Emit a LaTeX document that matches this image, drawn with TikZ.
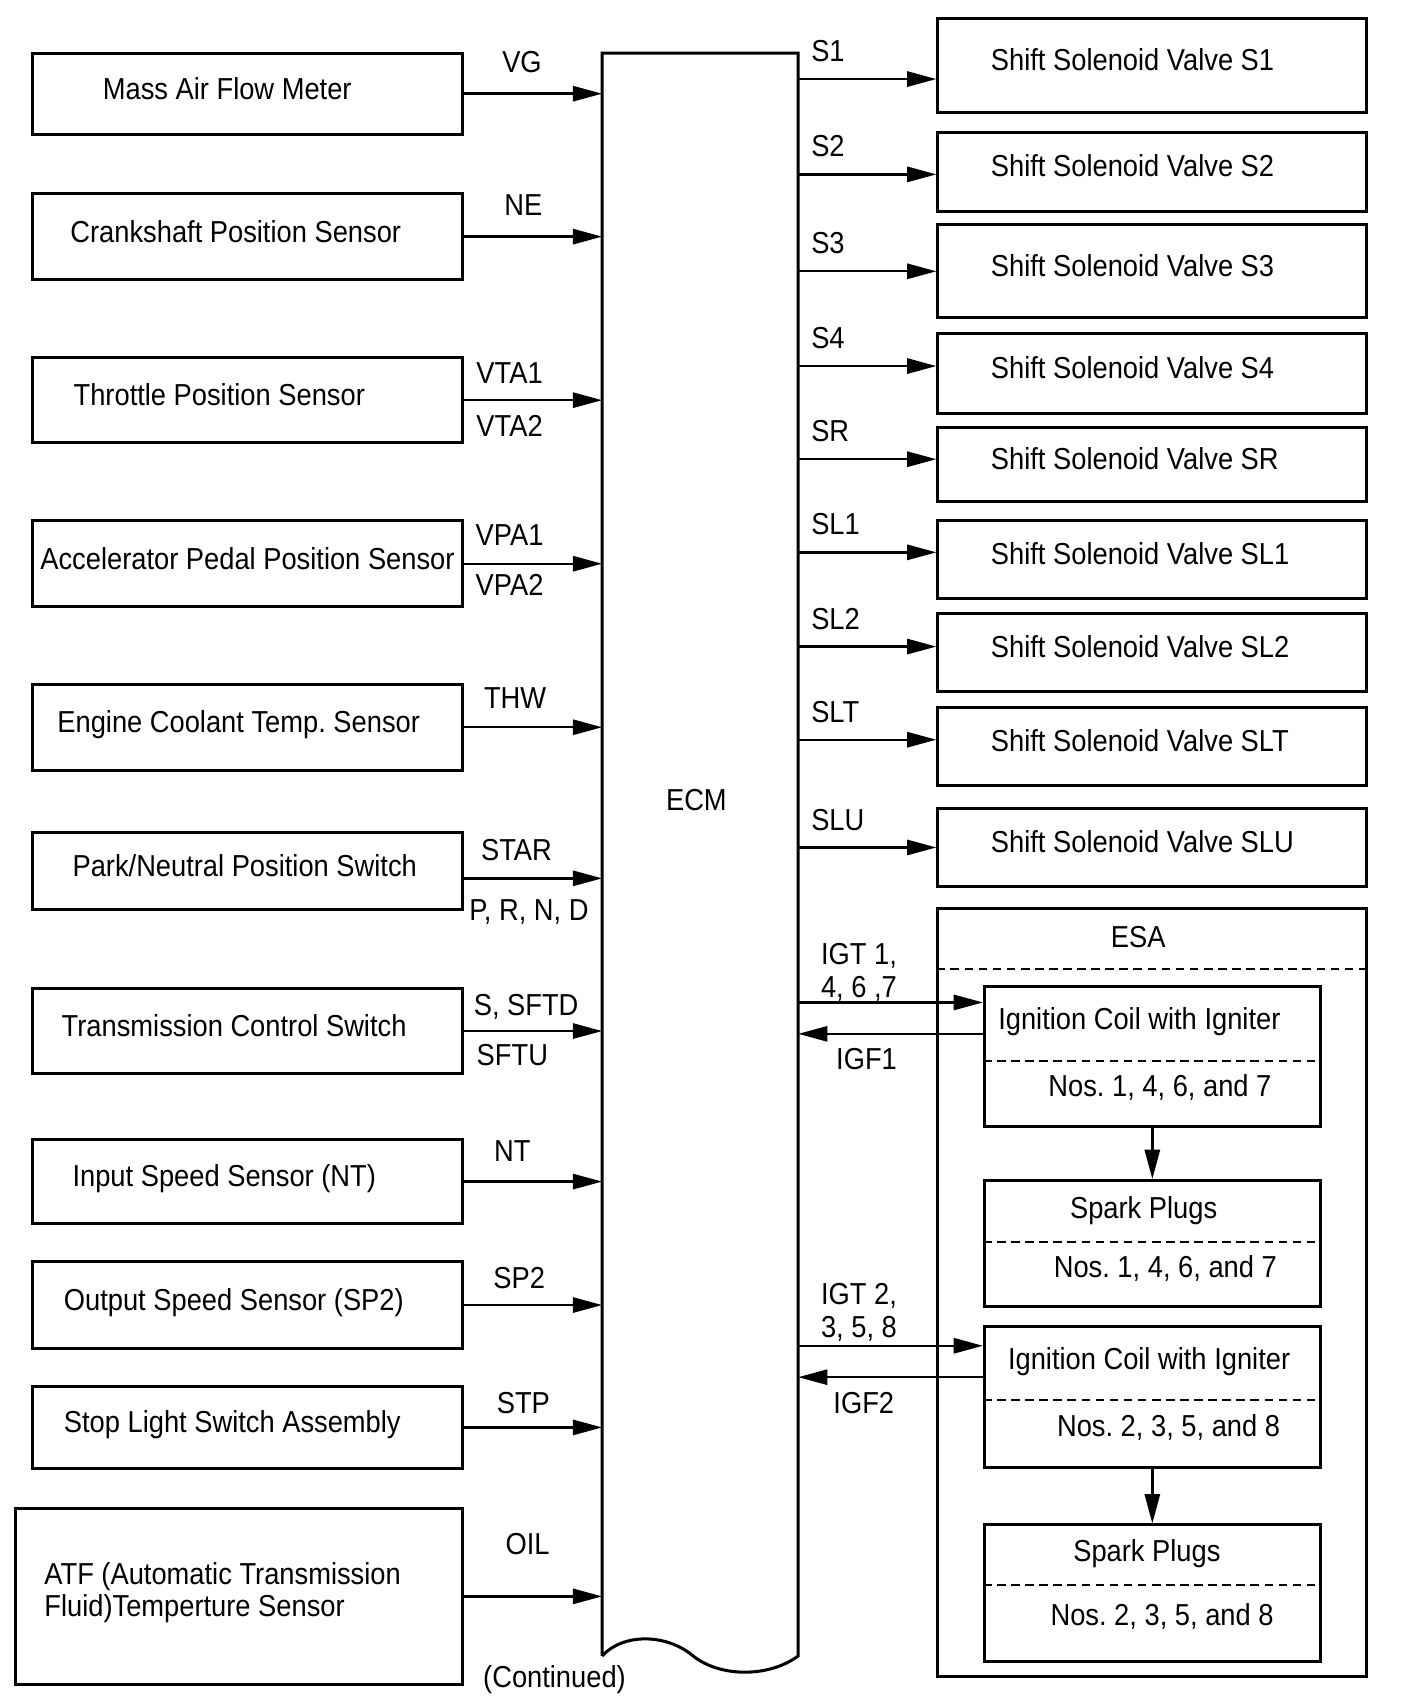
\documentclass[tikz,border=0pt]{standalone}
\usepackage{fontspec}
\setmainfont{Liberation Sans}[FakeStretch=0.9]
\frenchspacing
\usepackage{tikz}
\usetikzlibrary{positioning, arrows.meta}
\tikzstyle{line} = [draw, line width=2.2pt, -{Triangle[length=27pt, width=14pt]}]
\tikzstyle{sensor} = [rectangle, draw, line width=2.8pt, minimum width=397pt, minimum height=79pt, inner xsep=2pt, text centered, text height=20pt, text depth=10pt, font=\fontsize{28}{30}\selectfont]
\tikzstyle{valve} = [rectangle, draw, line width=2.8pt, minimum width=396pt, minimum height=72pt, inner xsep=2pt, text width=298pt, align=flush left, text height=20pt, text depth=11pt, font=\fontsize{28}{30}\selectfont]
\tikzstyle{ign} = [rectangle, draw, line width=2.8pt, minimum width=310pt]
\tikzstyle{sig} = [inner sep=2pt, text height=20pt, text depth=5pt, font=\fontsize{28}{30}\selectfont]
\tikzstyle{sig2} = [inner sep=2pt, align=flush left, font=\fontsize{28}{30}\selectfont]
\tikzstyle{divide} = [draw, line width=2pt, dash pattern=on 8pt off 5pt]

\begin{document}
\begin{tikzpicture}[x=1pt, y=-1pt]
\useasboundingbox (0,0) rectangle (1300,1566);

\coordinate (ecm_sw) at (556,1529);
\coordinate (ecm_nw) at (556,49);
\coordinate (ecm_ne) at (737,49);
\coordinate (ecm_se) at (737,1529);
\draw [line width=2.8pt] (ecm_sw) -- (ecm_nw) -- (ecm_ne) -- (ecm_se) .. controls (710,1549) and (665,1549) .. (640,1529) .. controls (615,1508) and (575,1508) .. (ecm_sw);
\node [sig] (ecm) at (643,741) {ECM};
\node [sig] (cont) at (512,1551) {(Continued)};


\node [sensor, minimum height=75pt, text width=267pt, align=flush left] (maf) at (228.5,86.5) {Mass Air Flow Meter};
\node [sensor, below of=maf, node distance=132pt, text width=327pt, align=flush left] (ckp) {Crankshaft Position Sensor};
\node [sensor, below of=ckp, node distance=151pt, text width=321pt, align=flush left] (tps) {Throttle Position Sensor};
\node [sensor, below of=tps, node distance=151pt] (apps) {Accelerator Pedal Position Sensor};
\node [sensor, below of=apps, node distance=151pt, text width=351pt, align=flush left] (ect) {Engine Coolant Temp. Sensor};
\node [sensor, below of=ect, node distance=133pt, minimum height=71pt, text width=323pt, align=flush left] (pnp) {Park/Neutral Position Switch};
\node [sensor, below of=pnp, node distance=147.5pt, text width=343pt, align=flush left] (tcs) {Transmission Control Switch};
\node [sensor, below of=tcs, node distance=139pt, minimum height=78pt, text width=323pt, align=flush left] (nt) {Input Speed Sensor (NT)};
\node [sensor, below of=nt, node distance=114pt, minimum height=80pt, text width=339pt, align=flush left] (sp2) {Output Speed Sensor (SP2)};
\node [sensor, below of=sp2, node distance=113pt, minimum height=76pt, text width=339pt, align=flush left] (stp) {Stop Light Switch Assembly};
\node [sensor, below of=stp, node distance=156pt, xshift=-8pt, minimum width=413pt, minimum height=162pt, text width=359pt, align=flush left, text depth=42pt] (atf) {ATF (Automatic Transmission\\Fluid)Temperture Sensor};

\coordinate (pnp_out) at ([yshift=-6.5pt]pnp.east);

\path [line] (maf.east) to node [sig, above=11.5pt, pos=.42] {VG} (maf.east -| ecm_nw);
\path [line] (ckp.east) to node [sig, above=11.5pt, pos=.43] {NE} (ckp.east -| ecm_nw);
\path [line] (tps.east) to node [sig, above=7.5pt, pos=.33] {VTA1} node [sig, below=10.5pt, pos=.33] {VTA2} (tps.east -| ecm_nw);
\path [line] (apps.east) to node [sig, above=8.5pt, pos=.33] {VPA1} node [sig, below=6.5pt, pos=.33] {VPA2} (apps.east -| ecm_nw);
\path [line] (ect.east) to node [sig, above=9.5pt, pos=.37] {THW} (ect.east -| ecm_nw);
\path [line] (pnp_out) to node [sig, above=8pt, pos=.38] {STAR} node [sig, below=16pt, pos=.47] {P, R, N, D} (pnp_out -| ecm_nw);
\path [line] (tcs.east) to node [sig, above=6pt, pos=.45] {S, SFTD} node [sig, below=9pt, pos=.35] {SFTU} (tcs.east -| ecm_nw);
\path [line] (nt.east) to node [sig, above=10pt, pos=.35] {NT} (nt.east -| ecm_nw);
\path [line] (sp2.east) to node [sig, above=7pt, pos=.40] {SP2} (sp2.east -| ecm_nw);
\path [line] (stp.east) to node [sig, above=5pt, pos=.43] {STP} (stp.east -| ecm_nw);
\path [line] (atf.east) to node [sig, above=31pt, pos=.46] {OIL} (atf.east -| ecm_nw);


\node [valve, minimum height=87pt] (s1) at (1064,60.5) {Shift Solenoid Valve S1};
\node [valve, below of=s1, node distance=98pt, minimum height=73pt] (s2) {Shift Solenoid Valve S2};
\node [valve, below of=s2, node distance=92pt, minimum height=86pt] (s3) {Shift Solenoid Valve S3};
\node [valve, below of=s3, node distance=94.5pt, minimum height=74pt] (s4) {Shift Solenoid Valve S4};
\node [valve, below of=s4, node distance=84pt, minimum height=68pt] (sr) {Shift Solenoid Valve SR};
\node [valve, below of=sr, node distance=88pt] (sl1) {Shift Solenoid Valve SL1};
\node [valve, below of=sl1, node distance=85.5pt] (sl2) {Shift Solenoid Valve SL2};
\node [valve, below of=sl2, node distance=86.5pt] (slt) {Shift Solenoid Valve SLT};
\node [valve, below of=slt, node distance=93.5pt] (slu) {Shift Solenoid Valve SLU};

\coordinate (s1_in) at ([yshift=-12.5pt]s1.west);
\coordinate (s2_in) at ([yshift=-2.5pt]s2.west);
\coordinate (s4_in) at ([yshift=7pt]s4.west);
\coordinate (sr_in) at ([yshift=5pt]sr.west);
\coordinate (sl1_in) at ([yshift=7pt]sl1.west);
\coordinate (sl2_in) at ([yshift=5.5pt]sl2.west);
\coordinate (slt_in) at ([yshift=6pt]slt.west);

\path [line] (ecm_ne |- s1_in) to node [sig, above right=8pt and 9pt, pos=0] {S1} (s1_in);
\path [line] (ecm_ne |- s2_in) to node [sig, above right=8pt and 9pt, pos=0] {S2} (s2_in);
\path [line] (ecm_ne |- s3.west) to node [sig, above right=8pt and 9pt, pos=0] {S3} (s3.west);
\path [line] (ecm_ne |- s4_in) to node [sig, above right=8pt and 9pt, pos=0] {S4} (s4_in);
\path [line] (ecm_ne |- sr_in) to node [sig, above right=8pt and 9pt, pos=0] {SR} (sr_in);
\path [line] (ecm_ne |- sl1_in) to node [sig, above right=8pt and 9pt, pos=0] {SL1} (sl1_in);
\path [line] (ecm_ne |- sl2_in) to node [sig, above right=8pt and 9pt, pos=0] {SL2} (sl2_in);
\path [line] (ecm_ne |- slt_in) to node [sig, above right=8pt and 9pt, pos=0] {SLT} (slt_in);
\path [line] (ecm_ne |- slu.west) to node [sig, above right=8pt and 9pt, pos=0] {SLU} (slu.west);


\node [ign, minimum width=396pt, minimum height=709pt, label={[sig, below=15pt, xshift=-13pt]north:ESA}] (esa) at (1064,1193.5) {};
\path [divide] ([yshift=-57pt]esa.north west) to ([yshift=-57pt]esa.north east);

\node [ign, minimum height=129pt] (coil1) at (1064,975.5) {};
\node [ign, below of=coil1, node distance=172.5pt, minimum height=116pt] (spark1) {};
\node [ign, below of=spark1, node distance=142pt, minimum height=130pt] (coil2) {};
\node [ign, below of=coil2, node distance=181pt, minimum height=126pt] (spark2) {};

\node [sig, below=19pt of coil1.north, xshift=-12pt] (coil1_txt) {Ignition Coil with Igniter};
\node [sig, below=81pt of coil1.north, xshift=7pt] (coil1_nos) {Nos. 1, 4, 6, and 7};
\path [divide] ([yshift=-70pt]coil1.north west) to ([yshift=-70pt]coil1.north east);

\node [sig, below=14pt of spark1.north, xshift=-8pt] (spark1_txt) {Spark Plugs};
\node [sig, below=69pt of spark1.north, xshift=12pt] (spark1_nos) {Nos. 1, 4, 6, and 7};
\path [divide] ([yshift=-58pt]spark1.north west) to ([yshift=-58pt]spark1.north east);

\node [sig, below=19pt of coil2.north, xshift=-3pt] (coil2_txt) {Ignition Coil with Igniter};
\node [sig, below=81pt of coil2.north, xshift=15pt] (coil2_nos) {Nos. 2, 3, 5, and 8};
\path [divide] ([yshift=-69pt]coil2.north west) to ([yshift=-69pt]coil2.north east);

\node [sig, below=13pt of spark2.north, xshift=-5pt] (spark2_txt) {Spark Plugs};
\node [sig, below=72pt of spark2.north, xshift=9pt] (spark2_nos) {Nos. 2, 3, 5, and 8};
\path [divide] ([yshift=-57pt]spark2.north west) to ([yshift=-57pt]spark2.north east);

\path [line] (coil1.south) to (spark1.north);
\path [line] (coil2.south) to (spark2.north);

\coordinate (igt1_in) at ([yshift=-16pt]coil1.north west);
\coordinate (igf1_out) at ([yshift=-45pt]coil1.north west);
\coordinate (igt2_in) at ([yshift=-19pt]coil2.north west);
\coordinate (igf2_out) at ([yshift=-48pt]coil2.north west);

\path [line] (ecm_ne |- igt1_in) to node [sig2, above right=-2pt and 18pt, pos=0] {IGT 1,\\4, 6 ,7} (igt1_in);
\path [line] (igf1_out) to node [sig, below=10pt, pos=.63] {IGF1} (igf1_out -| ecm_ne);
\path [line] (ecm_ne |- igt2_in) to node [sig2, above right=1pt and 18pt, pos=0] {IGT 2,\\3, 5, 8} (igt2_in);
\path [line] (igf2_out) to node [sig, below=10pt, pos=.645] {IGF2} (igf2_out -| ecm_ne);

\end{tikzpicture}
\end{document}
